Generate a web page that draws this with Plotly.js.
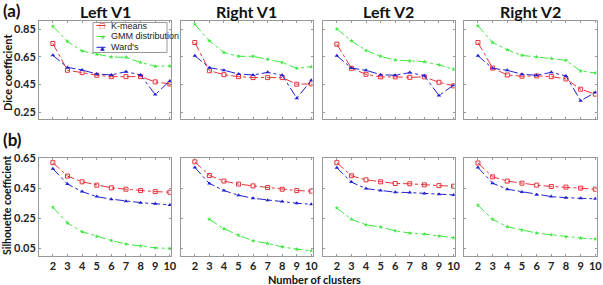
<!DOCTYPE html>
<html><head><meta charset="utf-8">
<script src="https://cdn.plot.ly/plotly-3.0.1.min.js"></script>
<style>html,body{margin:0;padding:0;background:#fff}</style>
</head><body><div id="chart" style="width:603px;height:285px"></div>
<script>
const clusters = [2,3,4,5,6,7,8,9,10];
const panelTitles = ["Left V1","Right V1","Left V2","Right V2"];
const seriesNames = ["K-means","GMM distribution","Ward's"];

// Dice coefficient (row a)
const diceKmeans = [
  [0.747,0.553,0.536,0.517,0.507,0.507,0.507,0.469,0.454],
  [0.754,0.550,0.521,0.507,0.500,0.500,0.500,0.452,0.454],
  [0.742,0.567,0.524,0.505,0.505,0.502,0.505,0.466,0.440],
  [0.754,0.569,0.519,0.510,0.512,0.507,0.490,0.416,0.380]
];
const diceGMM = [
  [0.872,0.761,0.692,0.668,0.649,0.647,0.610,0.582,0.584],
  [0.886,0.766,0.682,0.654,0.654,0.632,0.610,0.567,0.579],
  [0.852,0.766,0.697,0.654,0.627,0.620,0.615,0.593,0.560],
  [0.876,0.754,0.701,0.661,0.649,0.639,0.625,0.548,0.533]
];
const diceWard = [
  [0.661,0.574,0.555,0.526,0.519,0.543,0.519,0.377,0.476],
  [0.658,0.572,0.553,0.526,0.519,0.538,0.517,0.351,0.481],
  [0.658,0.569,0.553,0.521,0.517,0.536,0.514,0.370,0.445],
  [0.658,0.567,0.553,0.524,0.517,0.538,0.512,0.332,0.392]
];
// Silhouette coefficient (row b)
const silKmeans = [
  [0.619,0.530,0.492,0.470,0.452,0.443,0.434,0.427,0.423],
  [0.625,0.534,0.497,0.477,0.465,0.454,0.443,0.434,0.430],
  [0.619,0.532,0.505,0.492,0.481,0.479,0.472,0.467,0.463],
  [0.617,0.525,0.497,0.483,0.470,0.461,0.457,0.450,0.443]
];
const silGMM = [
  [0.323,0.219,0.161,0.130,0.103,0.079,0.067,0.054,0.050],
  [null,0.243,0.181,0.137,0.101,0.083,0.061,0.045,0.034],
  [0.319,0.243,0.207,0.192,0.167,0.152,0.145,0.132,0.121],
  [0.337,0.243,0.194,0.172,0.152,0.141,0.128,0.119,0.112]
];
const silWard = [
  [0.579,0.477,0.427,0.394,0.377,0.363,0.354,0.347,0.339],
  [0.587,0.481,0.434,0.403,0.383,0.370,0.361,0.350,0.343],
  [0.585,0.490,0.447,0.434,0.423,0.421,0.414,0.410,0.405],
  [0.587,0.483,0.443,0.425,0.407,0.394,0.387,0.383,0.379]
];
const diceTicks = [0.25,0.45,0.65,0.85];
const silTicks = [0.05,0.25,0.45,0.65];

const W = 603, H = 285;
const colX = [[39,171],[181,312.5],[323,454.7],[464,596.5]];
const rowY = [[21,119],[157.7,256]];
const colors = ["#e8343c","#3ee83e","#2222d2"];
const symbols = ["square-open","star","triangle-up"];
const glyphs = ["□","★","▲"];
const FONT = "Lato, 'Open Sans', sans-serif";
const px = v => v/W, py = v => 1 - v/H;

const data = [];
const layout = {
  width: W, height: H, margin:{l:0,r:0,t:0,b:0},
  paper_bgcolor:"#fff", plot_bgcolor:"#fff",
  font:{family:FONT, color:"#222"},
  showlegend:false,
  annotations:[], shapes:[]
};

let idx = 0;
for (let r=0;r<2;r++){
  const sets = r===0 ? [diceKmeans,diceGMM,diceWard] : [silKmeans,silGMM,silWard];
  for (let c=0;c<4;c++){
    idx++;
    const xa = "xaxis"+(idx===1?"":idx), ya = "yaxis"+(idx===1?"":idx);
    const xr = "x"+(idx===1?"":idx), yr = "y"+(idx===1?"":idx);
    for (let s=0;s<3;s++){
      data.push({x:clusters, y:sets[s][c], xaxis:xr, yaxis:yr, type:"scatter", mode:"lines+markers",
        name:seriesNames[s], connectgaps:false,
        line:{color:colors[s], width:1, dash:"dashdot"},
        marker:{symbol:symbols[s], size:s===1?3.5:4, color:colors[s], line:{color:colors[s], width:s===0?1:0}}});
    }
    layout[xa] = {domain:[px(colX[c][0]), px(colX[c][1])], range:[1.05,10.08], anchor:yr,
      tickvals:clusters, ticktext:clusters.map(String), showticklabels:(r===1),
      ticks:"inside", ticklen:2, tickcolor:"#999", showline:true, linecolor:"#999", linewidth:1, mirror:"ticks",
      showgrid:false, zeroline:false, automargin:false, ticklabeloverflow:"allow",
      tickfont:{family:FONT, size:11, color:"#222", weight:"bold"}};
    const ticks = r===0 ? diceTicks : silTicks;
    layout[ya] = {domain:[py(rowY[r][1]), py(rowY[r][0])], range: r===0?[0.2,0.91]:[0,0.652], anchor:xr,
      tickvals:ticks, ticktext:ticks.map(v=>v.toFixed(2)), showticklabels:(c===0),
      ticks:"inside", ticklen:2, tickcolor:"#999", showline:true, linecolor:"#999", linewidth:1, mirror:"ticks",
      showgrid:false, zeroline:false, automargin:false,
      tickfont:{family:FONT, size:11, color:"#222", weight:"bold"}};
    if (r===0){
      layout.annotations.push({text:"<b>"+panelTitles[c]+"</b>", xref:"paper", yref:"paper",
        x:px((colX[c][0]+colX[c][1])/2), y:py(11), xanchor:"center", yanchor:"middle", showarrow:false,
        font:{family:FONT, size:16, color:"#111"}});
    }
  }
}

// legend box (panel a, Left V1)
const lgX0 = 93, lgX1 = 167, lgY0 = 22.5, lgY1 = 52.5;
const lgRows = [25.5, 36.5, 47.3];
layout.shapes.push({type:"rect", xref:"paper", yref:"paper", x0:px(lgX0), x1:px(lgX1), y0:py(lgY1), y1:py(lgY0),
  line:{color:"#999", width:1}, fillcolor:"#fff", layer:"above"});
seriesNames.forEach((n,s)=>{
  layout.shapes.push({type:"line", xref:"paper", yref:"paper", x0:px(96.5), x1:px(108), y0:py(lgRows[s]), y1:py(lgRows[s]),
    line:{color:colors[s], width:1, dash:"dashdot"}, layer:"above"});
  layout.annotations.push({text:glyphs[s], xref:"paper", yref:"paper", x:px(102.3), y:py(lgRows[s]),
    xanchor:"center", yanchor:"middle", showarrow:false, font:{family:"DejaVu Sans", size:s===0?7:6, color:colors[s]}});
  layout.annotations.push({text:n, xref:"paper", yref:"paper", x:px(109), y:py(lgRows[s]),
    xanchor:"left", yanchor:"middle", showarrow:false, font:{family:"Liberation Sans, Arial", size:9, color:"#222"}});
});

layout.annotations.push(
  {text:"<b>(a)</b>", xref:"paper", yref:"paper", x:px(1), y:py(10.5), xanchor:"left", yanchor:"middle", showarrow:false,
   font:{family:FONT, size:17, color:"#111"}},
  {text:"<b>(b)</b>", xref:"paper", yref:"paper", x:px(1), y:py(139), xanchor:"left", yanchor:"middle", showarrow:false,
   font:{family:FONT, size:17, color:"#111"}},
  {text:"<b>Dice coefficient</b>", xref:"paper", yref:"paper", x:px(7), y:py(73), xanchor:"center", yanchor:"middle",
   textangle:-90, showarrow:false, font:{family:FONT, size:11, color:"#111"}},
  {text:"<b>Silhouette coefficient</b>", xref:"paper", yref:"paper", x:px(7), y:py(206), xanchor:"center", yanchor:"middle",
   textangle:-90, showarrow:false, font:{family:FONT, size:10.5, color:"#111"}},
  {text:"<b>Number of clusters</b>", xref:"paper", yref:"paper", x:px(314), y:py(279), xanchor:"center", yanchor:"middle",
   showarrow:false, font:{family:FONT, size:11, color:"#111"}}
);
Plotly.newPlot("chart", data, layout, {staticPlot:true, displayModeBar:false});
</script></body></html>
